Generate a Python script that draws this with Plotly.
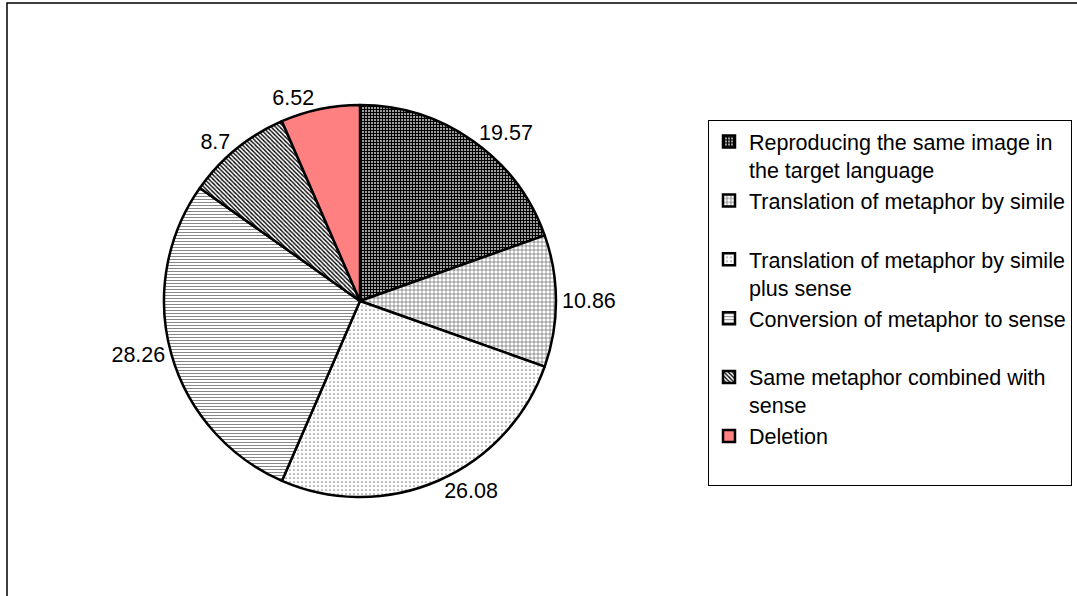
import plotly.graph_objects as go

categories = [
    "Reproducing the same image in<br>the target language",
    "Translation of metaphor by simile<br>&nbsp;",
    "Translation of metaphor by simile<br>plus sense",
    "Conversion of metaphor to sense<br>&nbsp;",
    "Same metaphor combined with<br>sense",
    "Deletion<br>&nbsp;",
]
values = [19.57, 10.86, 26.08, 28.26, 8.7, 6.52]

pattern_shapes = ["+", "+", ".", "-", "\\", ""]
pattern_fg = ["#000000", "#444444", "#888888", "#888888", "#000000", "#FF8080"]
pattern_size = [3, 4, 4, 3, 3, 4]
pattern_solidity = [0.7, 0.25, 0.15, 0.35, 0.45, 0.3]
slice_bg = ["#ffffff", "#ffffff", "#ffffff", "#ffffff", "#ffffff", "#FF8080"]

W, H = 1077, 596
cx, cy, r = 360, 301, 196

fig = go.Figure()
fig.add_trace(go.Pie(
    labels=categories,
    values=values,
    sort=False,
    direction="clockwise",
    rotation=0,
    texttemplate="%{value}",
    textposition="outside",
    textfont=dict(family="Liberation Sans, Arial, sans-serif", size=21.5, color="#000000"),
    marker=dict(
        colors=slice_bg,
        line=dict(color="#000000", width=2.5),
        pattern=dict(
            shape=pattern_shapes,
            fgcolor=pattern_fg,
            bgcolor=slice_bg,
            size=pattern_size,
            solidity=pattern_solidity,
        ),
    ),
    domain=dict(x=[(cx - r) / W, (cx + r) / W], y=[(H - cy - r) / H, (H - cy + r) / H]),
    automargin=False,
    hoverinfo="label+value",
))

fig.add_shape(type="rect", xref="paper", yref="paper",
              x0=7 / W, x1=1.02, y0=-0.02, y1=1 - 3 / H,
              line=dict(color="#000000", width=1.5), fillcolor="rgba(0,0,0,0)")

fig.update_layout(
    width=W, height=H,
    margin=dict(l=0, r=0, t=0, b=0),
    paper_bgcolor="#ffffff",
    plot_bgcolor="#ffffff",
    font=dict(family="Liberation Sans, Arial, sans-serif", size=21.5, color="#000000"),
    showlegend=True,
    legend=dict(
        x=708 / W, y=1 - 120 / H, xanchor="left", yanchor="top",
        bgcolor="#ffffff", bordercolor="#000000", borderwidth=1,
        font=dict(family="Liberation Sans, Arial, sans-serif", size=21.5, color="#000000"),
        valign="top", itemwidth=30, tracegroupgap=0,
    ),
)

fig.write_html("out.html")
